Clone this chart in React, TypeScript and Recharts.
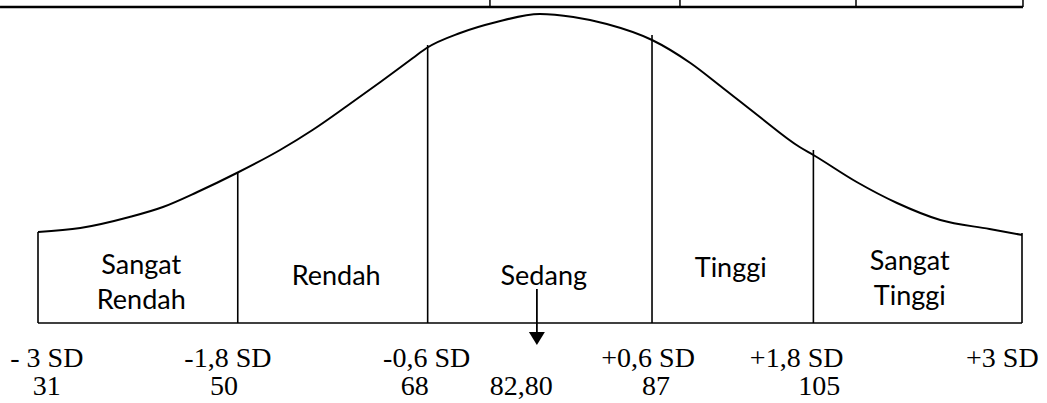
import React from "react";
import {
  ComposedChart,
  Line,
  XAxis,
  YAxis,
  ReferenceLine,
  ReferenceDot,
  Scatter,
} from "recharts";

// Normal curve: horizontal position (0..100 across the diagram) and height above the baseline
const curveX = [0, 4.3, 9.3, 12.7, 16.2, 20.2, 24.6, 27.9, 31.4, 34.8, 38.1, 39.5, 42.9, 46.6, 51.0, 54.4, 57.8, 62.4, 66.3, 69.6, 73.1, 77.4, 78.8, 83.2, 87.3, 91.7, 96.7, 100];
const curveH = [91, 95, 106, 116, 131, 150, 173, 193, 217, 241, 265, 275, 290, 301, 309, 306, 299, 283, 260, 235, 208, 176, 168, 141, 120, 103, 94, 88];

// Category boundaries (-3, -1.8, -0.6, +0.6, +1.8, +3 SD)
const boundaryX = [0, 20.3, 39.6, 62.4, 78.8, 100];
const boundaryTop = [91, 150, 278, 288, 173, 90];

// Category names
const categoryLines = [["Sangat", "Rendah"], ["Rendah"], ["Sedang"], ["Tinggi"], ["Sangat", "Tinggi"]];
const categoryX = [10.5, 30.3, 51.4, 70.4, 88.6];
const categoryBase = [[49, 14], [38], [38], [46], [53, 18]];

// SD labels and scores
const sdLabels = ["- 3 SD", "-1,8 SD", "-0,6 SD", "+0,6 SD", "+1,8 SD", "+3 SD"];
const sdX = [0.9, 19.3, 39.5, 62.0, 77.1, 98.0];
const scoreLabels = ["31", "50", "68", "82,80", "87", "105"];
const scoreX = [0.9, 18.9, 38.3, 49.1, 62.8, 79.4];
const sdRowY = -44;
const scoreRowY = -72;

// Mean arrow
const arrowX = 50.7;
const arrowFrom = 34;
const arrowTo = -22;

// Fragment of table above the chart
const tableLineY = 316;
const tableTopY = 323;
const tableLeft = -3.86;
const tableCols = [45.93, 65.24, 83.13, 100.1];

const curveData = curveX.map((x, i) => ({ x, h: curveH[i] }));

type Lbl = { x: number; y: number; text: string; font: string };
const labelData: Lbl[] = [];
categoryLines.forEach((lines, i) =>
  lines.forEach((t, j) =>
    labelData.push({ x: categoryX[i], y: categoryBase[i][j], text: t, font: "cat" })
  )
);
sdLabels.forEach((t, i) => labelData.push({ x: sdX[i], y: sdRowY, text: t, font: "sd" }));
scoreLabels.forEach((t, i) => labelData.push({ x: scoreX[i], y: scoreRowY, text: t, font: "sd" }));

const TextShape = (props: any) => {
  const { cx, cy, payload } = props;
  const isCat = payload.font === "cat";
  return (
    <text
      x={cx}
      y={cy}
      textAnchor="middle"
      fontFamily={isCat ? "Lato, 'Open Sans', sans-serif" : "'Liberation Serif', 'Times New Roman', serif"}
      fontSize={isCat ? 27 : 28}
      fill="#000"
    >
      {payload.text}
    </text>
  );
};

const ArrowHead = (props: any) => {
  const { cx, cy } = props;
  return <polygon points={`${cx - 8},${cy - 13} ${cx + 8},${cy - 13} ${cx},${cy}`} fill="#000" />;
};

export default function App() {
  return (
    <div style={{ position: "absolute", left: 0, top: 0, background: "#fff" }}>
      <ComposedChart
        width={1047}
        height={403}
        data={curveData}
        margin={{ top: 0, right: 25, bottom: 0, left: 38 }}
      >
        <XAxis type="number" dataKey="x" domain={[0, 100]} hide />
        <YAxis type="number" domain={[-80, 323]} hide allowDataOverflow />

        {/* table fragment */}
        <ReferenceLine
          segment={[{ x: tableLeft, y: tableLineY }, { x: tableCols[3], y: tableLineY }]}
          stroke="#000"
          strokeWidth={2.5}
          ifOverflow="visible"
        />
        {tableCols.map((c, i) => (
          <ReferenceLine
            key={"tc" + i}
            segment={[{ x: c, y: tableLineY }, { x: c, y: tableTopY }]}
            stroke="#000"
            strokeWidth={1.5}
            ifOverflow="visible"
          />
        ))}

        {/* baseline */}
        <ReferenceLine
          segment={[{ x: 0, y: 0 }, { x: 100, y: 0 }]}
          stroke="#000"
          strokeWidth={1.6}
          ifOverflow="visible"
        />
        {boundaryX.map((bx, i) => (
          <ReferenceLine
            key={"b" + i}
            segment={[{ x: bx, y: 0 }, { x: bx, y: boundaryTop[i] }]}
            stroke="#000"
            strokeWidth={1.6}
            ifOverflow="visible"
          />
        ))}

        <Line
          type="monotone"
          dataKey="h"
          stroke="#000"
          strokeWidth={2}
          dot={false}
          activeDot={false}
          isAnimationActive={false}
        />

        {/* arrow */}
        <ReferenceLine
          segment={[{ x: arrowX, y: arrowFrom }, { x: arrowX, y: arrowTo + 12 }]}
          stroke="#000"
          strokeWidth={1.8}
          ifOverflow="visible"
        />
        <ReferenceDot x={arrowX} y={arrowTo} r={0} shape={ArrowHead} ifOverflow="visible" />

        <Scatter data={labelData} dataKey="y" shape={TextShape} isAnimationActive={false} />
      </ComposedChart>
    </div>
  );
}
